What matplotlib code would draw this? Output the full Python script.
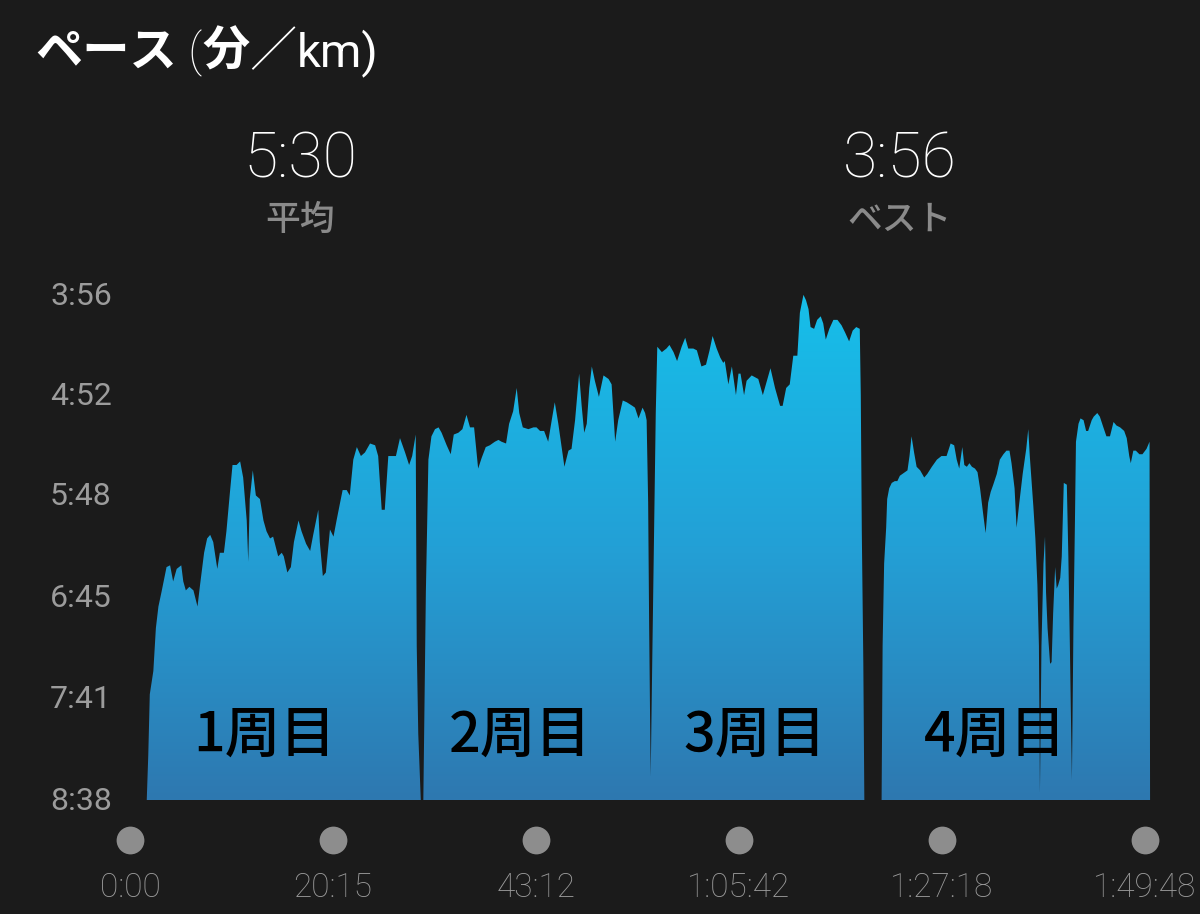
import numpy as np
import matplotlib.pyplot as plt
from matplotlib.colors import LinearSegmentedColormap
from matplotlib.path import Path
from matplotlib.transforms import blended_transform_factory

plt.rcParams['font.family'] = ['Roboto', 'Noto Sans CJK JP', 'DejaVu Sans']

# distance (km) and pace (seconds per km)
lap1_km = [0.33, 0.36, 0.39, 0.46, 0.51, 0.56, 0.62, 0.72, 0.79, 0.85,
           0.92, 1.01, 1.05, 1.10, 1.17, 1.25, 1.33, 1.38, 1.46, 1.52,
           1.58, 1.64, 1.72, 1.77, 1.85, 1.90, 1.97, 2.02, 2.10, 2.17,
           2.23, 2.30, 2.33, 2.36, 2.42, 2.48, 2.56, 2.63, 2.69, 2.76,
           2.82, 2.92, 2.99, 3.03, 3.10, 3.17, 3.23, 3.32, 3.38, 3.47,
           3.55, 3.61, 3.71, 3.74, 3.80, 3.86, 3.94, 4.01, 4.07, 4.14,
           4.19, 4.27, 4.33, 4.40, 4.47, 4.55, 4.63, 4.73, 4.83, 4.89,
           4.96, 5.02, 5.09, 5.24, 5.32, 5.42, 5.50, 5.56, 5.63,
           5.65, 5.68, 5.73, 5.78, 5.83, 5.88]
lap1_pace = [519, 494, 460, 447, 423, 411, 403, 389, 388, 397,
             390, 388, 397, 402, 400, 402, 411, 399, 381, 373,
             371, 375, 390, 381, 381, 369, 347, 332, 332, 330,
             339, 363, 386, 351, 335, 349, 351, 363, 369, 373,
             372, 383, 381, 383, 392, 389, 375, 363, 369, 376,
             380, 371, 357, 375, 394, 392, 368, 372, 363, 353,
             346, 346, 349, 329, 322, 327, 325, 320, 321, 327,
             357, 357, 327, 327, 317, 325, 332, 327, 315,
             433, 482, 519, 519, 403, 329]

lap2_km = [5.94, 6.01, 6.08, 6.14, 6.24, 6.32, 6.38, 6.47, 6.55, 6.63,
           6.70, 6.78, 6.86, 6.93, 7.01, 7.09, 7.19, 7.26, 7.32, 7.41,
           7.47, 7.55, 7.62, 7.67, 7.74, 7.85, 7.95, 8.01, 8.08, 8.16,
           8.24, 8.31, 8.37, 8.44, 8.51, 8.56, 8.64, 8.70, 8.77, 8.85,
           8.90, 8.95, 9.00, 9.05, 9.10, 9.16, 9.24, 9.33, 9.43, 9.49,
           9.56, 9.62, 9.71, 9.79, 9.90, 9.95, 10.02, 10.10, 10.15, 10.18,
           10.21, 10.23, 10.26, 10.29, 10.33, 10.36]
lap2_pace = [316, 312, 311, 314, 321, 326, 315, 314, 312, 304,
             311, 311, 334, 328, 322, 321, 319, 318, 319, 320,
             309, 302, 289, 303, 311, 312, 311, 311, 313, 313,
             319, 307, 297, 309, 323, 333, 324, 323, 307, 281,
             299, 314, 309, 289, 277, 285, 294, 282, 284, 287,
             319, 307, 296, 297, 299, 300, 306, 300, 303, 307,
             353, 423, 506, 443, 363, 303]

lap3_km = [10.39, 10.48, 10.57, 10.63, 10.71, 10.78, 10.87, 10.94, 11.00, 11.10,
           11.17, 11.26, 11.35, 11.42, 11.48, 11.56, 11.63, 11.69, 11.72, 11.79,
           11.86, 11.94, 11.99, 12.03, 12.10, 12.15, 12.25, 12.38, 12.47, 12.55,
           12.62, 12.71, 12.81, 12.86, 12.93, 13.00, 13.07, 13.15, 13.20, 13.27,
           13.32, 13.37, 13.41, 13.48, 13.54, 13.61, 13.66, 13.71, 13.78, 13.86,
           13.94, 14.02, 14.09, 14.17, 14.24, 14.31, 14.38, 14.40, 14.42, 14.45,
           14.47]
lap3_pace = [266, 269, 267, 265, 269, 274, 266, 261, 267, 267,
             268, 277, 276, 268, 260, 267, 272, 275, 274, 287,
             277, 293, 281, 281, 293, 285, 282, 284, 293, 285,
             278, 289, 299, 299, 289, 287, 271, 271, 247, 237,
             240, 245, 255, 256, 251, 249, 253, 262, 256, 251,
             251, 254, 258, 263, 257, 255, 256, 293, 369, 443,
             519]

lap4_km = [14.81, 14.83, 14.86, 14.90, 14.92, 14.96, 15.01, 15.07, 15.12, 15.17,
           15.27, 15.32, 15.36, 15.40, 15.45, 15.50, 15.57, 15.65, 15.71, 15.80,
           15.90, 15.99, 16.09, 16.17, 16.24, 16.29, 16.34, 16.40, 16.44, 16.49,
           16.54, 16.59, 16.65, 16.70, 16.75, 16.81, 16.86, 16.91, 16.96, 17.01,
           17.08, 17.14, 17.21, 17.27, 17.33, 17.37, 17.43, 17.47, 17.52, 17.59,
           17.66, 17.70, 17.73, 17.80, 17.84, 17.88, 17.91, 17.93, 17.96, 18.00,
           18.03, 18.05, 18.08, 18.13, 18.16, 18.19, 18.23, 18.26, 18.29, 18.33,
           18.36, 18.40, 18.46, 18.49, 18.52, 18.56, 18.59, 18.62, 18.64, 18.69,
           18.73, 18.79, 18.84, 18.88, 18.95, 18.99, 19.06, 19.11, 19.18, 19.24,
           19.31, 19.38, 19.44, 19.51, 19.59, 19.64, 19.69, 19.72, 19.77, 19.82,
           19.89, 19.95, 20.03, 20.09, 20.10]
lap4_pace = [519, 433, 387, 367, 351, 345, 342, 341, 341, 338,
             336, 335, 327, 316, 325, 333, 335, 339, 337, 333,
             329, 327, 327, 320, 321, 329, 334, 322, 332, 333,
             331, 333, 334, 336, 345, 359, 370, 353, 347, 343,
             337, 329, 326, 324, 324, 331, 345, 367, 354, 337,
             323, 312, 327, 355, 373, 399, 433, 515, 433, 387,
             372, 403, 423, 443, 442, 415, 389, 401, 399, 395,
             383, 342, 343, 383, 433, 508, 423, 363, 319, 309,
             306, 307, 313, 313, 307, 305, 303, 305, 311, 316,
             316, 308, 310, 311, 313, 317, 327, 331, 324, 324,
             326, 326, 323, 319, 519]

lap_labels = ['1周目', '2周目', '3周目', '4周目']
lap_label_km = [2.66, 7.68, 12.32, 17.04]
lap_label_pace = 483

ytick_vals = [236, 292, 348, 405, 461, 518]
ytick_labels = ['3:56', '4:52', '5:48', '6:45', '7:41', '8:38']
xtick_km = [0, 4, 8, 12, 16, 20]
xtick_labels = ['0:00', '20:15', '43:12', '1:05:42', '1:27:18', '1:49:48']

avg_pace = '5:30'
best_pace = '3:56'

bg = '#1b1b1b'
W, H = 1200, 914
fig = plt.figure(figsize=(12, 9.14), dpi=100, facecolor=bg)
ax = fig.add_axes([0, 1 - 800 / H, 1, 520 / H])
ax.set_facecolor(bg)
ax.axis('off')

x0, x1 = -2.5616, 21.084
y_bot, y_top = 519, 228.74

# gradient area, clipped to the pace profile
run_km = lap1_km + lap2_km + lap3_km
run_pace = lap1_pace + lap2_pace + lap3_pace
paths = []
for xs, ys in [(run_km, run_pace), (lap4_km, lap4_pace)]:
    pc = ax.fill_between(xs, ys, y_bot, color='none', lw=0)
    paths += pc.get_paths()
clip = Path.make_compound_path(*paths)

cmap = LinearSegmentedColormap.from_list('pace', [(0, '#2e78b0'), (0.5, '#23a0d6'), (1, '#16bfea')])
grad = np.linspace(0, 1, 256).reshape(-1, 1)
im = ax.imshow(grad, cmap=cmap, extent=(x0, x1, y_bot, 236), origin='lower',
               aspect='auto', zorder=2, interpolation='bilinear')
im.set_clip_path(clip, transform=ax.transData)

ax.set_xlim(x0, x1)
ax.set_ylim(y_bot, y_top)

for k, lab in zip(lap_label_km, lap_labels):
    ax.text(k, lap_label_pace, lab, ha='center', va='center', fontsize=40,
            fontweight='medium', family=['Noto Sans CJK JP'], color='black', zorder=3)

# y tick labels on the left
ytr = blended_transform_factory(fig.transFigure, ax.transData)
for v, lab in zip(ytick_vals, ytick_labels):
    ax.annotate(lab, xy=(50 / W, v), xycoords=ytr, xytext=(0, -8.3),
                textcoords='offset points', ha='left', va='baseline',
                fontsize=23, color='#9c9c9c', annotation_clip=False)

# x ticks: grey dots with times underneath
xtr = blended_transform_factory(ax.transData, fig.transFigure)
ax.plot(xtick_km, [1 - 840 / H] * len(xtick_km), 'o', ms=20, color='#8d8d8d',
        mec='none', transform=xtr, clip_on=False, zorder=3)
for k, lab in zip(xtick_km, xtick_labels):
    ax.text(k, 1 - 897 / H, lab, transform=xtr, ha='center', va='baseline',
            fontsize=24, fontweight='light', color='#9c9c9c', clip_on=False)

# title
r = fig.canvas.get_renderer()
title_parts = [('ペース', 'bold', ['Noto Sans CJK JP']),
               (' (', 'light', ['Roboto']),
               ('分', 'bold', ['Noto Sans CJK JP']),
               ('／', 'light', ['Noto Sans CJK JP']),
               ('km)', 'normal', ['Roboto'])]
x = 35
for s, w, fam in title_parts:
    t = fig.text(x / W, 1 - 66 / H, s, color='white', fontsize=34, fontweight=w,
                 family=fam, va='baseline', ha='left')
    x = t.get_window_extent(r).x1

# summary stats
for cx, val, lab in [(300, avg_pace, '平均'), (900, best_pace, 'ベスト')]:
    fig.text(cx / W, 1 - 178 / H, val, color='white', fontsize=45, fontweight='light',
             ha='center', va='baseline')
    fig.text(cx / W, 1 - 220 / H, lab, color='#8a8a8a', fontsize=25, fontweight='medium',
             family=['Noto Sans CJK JP'], ha='center', va='center')

fig.savefig('out.png', dpi=100, facecolor=bg)
